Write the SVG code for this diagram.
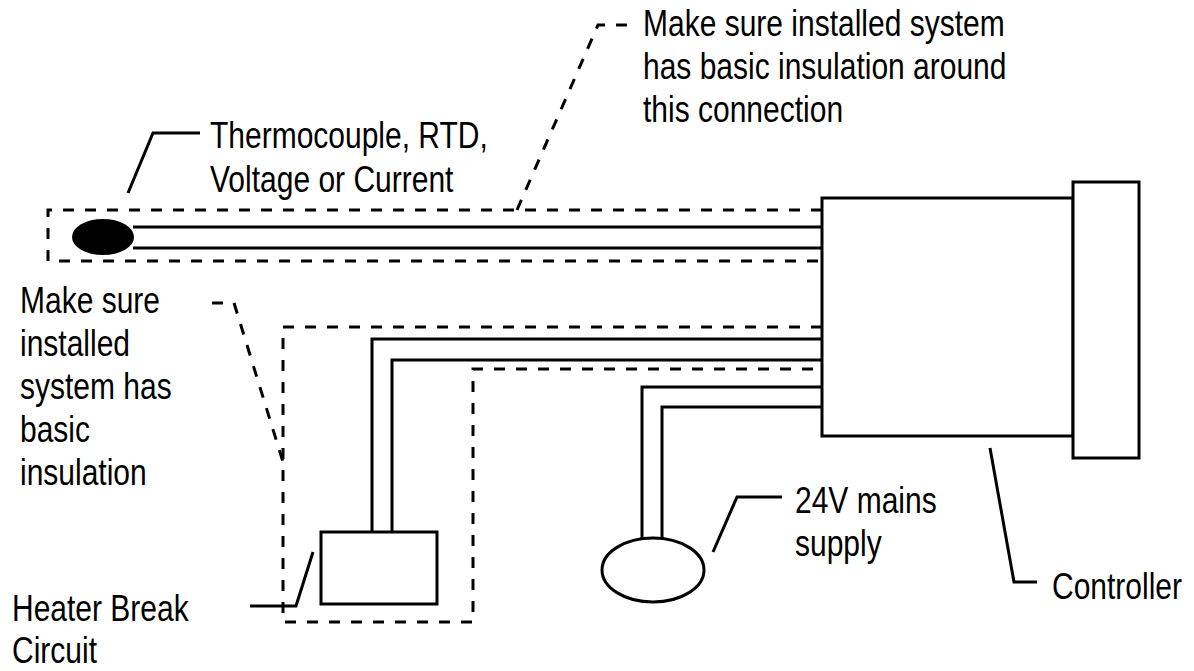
<svg xmlns="http://www.w3.org/2000/svg" width="1194" height="671" viewBox="0 0 1194 671">
<style>
.s{fill:none;stroke:#000;stroke-width:3}
.d{fill:none;stroke:#000;stroke-width:3;stroke-dasharray:11 11}
.b{fill:#fff;stroke:#000;stroke-width:3}
text{font-family:"Liberation Sans",Arial,sans-serif;font-size:30px;fill:#000}
</style>
<rect width="1194" height="671" fill="#fff"/>
<g id="connectors">
<path class="d" d="M822,210 H48 V261 H822"/>
<path class="s" d="M133,227 H822 M133,248 H822"/>
<path class="d" d="M822,327 H283 V622 H473 V369 H822"/>
<path class="s" d="M372,532 V339 H822 M392,532 V360 H822"/>
<path class="s" d="M642,538 V387 H822 M662,538 V407 H822"/>
</g>
<g id="sensor">
<ellipse cx="103" cy="237" rx="31" ry="18" fill="#000"/>
</g>
<g id="controller">
<rect class="b" x="822" y="198" width="251" height="238"/>
<rect class="b" x="1073" y="182" width="66" height="276"/>
</g>
<g id="heater">
<rect class="b" x="321" y="532" width="116" height="72"/>
</g>
<g id="mains">
<ellipse class="b" cx="653" cy="570" rx="51" ry="32"/>
</g>
<g id="leaders">
<polyline class="s" points="128,193 153,133 200,133"/>
<polyline class="d" points="517,210 598,25 634,25"/>
<polyline class="d" points="212,303 234,303 283,462"/>
<polyline class="s" points="250,606 296,606 313,552"/>
<polyline class="s" points="713,552 737,497 782,497"/>
<polyline class="s" points="990,448 1014,582 1037,582"/>
</g>
<g id="labels">
<text transform="translate(210,148) scale(1,1.2)">Thermocouple, RTD,</text>
<text transform="translate(210,192) scale(1,1.2)">Voltage or Current</text>
<text transform="translate(643,36) scale(1,1.2)">Make sure installed system</text>
<text transform="translate(643,79) scale(1,1.2)">has basic insulation around</text>
<text transform="translate(643,122) scale(1,1.2)">this connection</text>
<text transform="translate(20,313) scale(1,1.2)">Make sure</text>
<text transform="translate(20,356) scale(1,1.2)">installed</text>
<text transform="translate(20,399) scale(1,1.2)">system has</text>
<text transform="translate(20,442) scale(1,1.2)">basic</text>
<text transform="translate(20,485) scale(1,1.2)">insulation</text>
<text transform="translate(795,513) scale(1,1.2)">24V mains</text>
<text transform="translate(795,556) scale(1,1.2)">supply</text>
<text transform="translate(12,621) scale(1,1.2)">Heater Break</text>
<text transform="translate(12,663) scale(1,1.2)">Circuit</text>
<text transform="translate(1052,599) scale(1,1.2)">Controller</text>
</g>
</svg>
